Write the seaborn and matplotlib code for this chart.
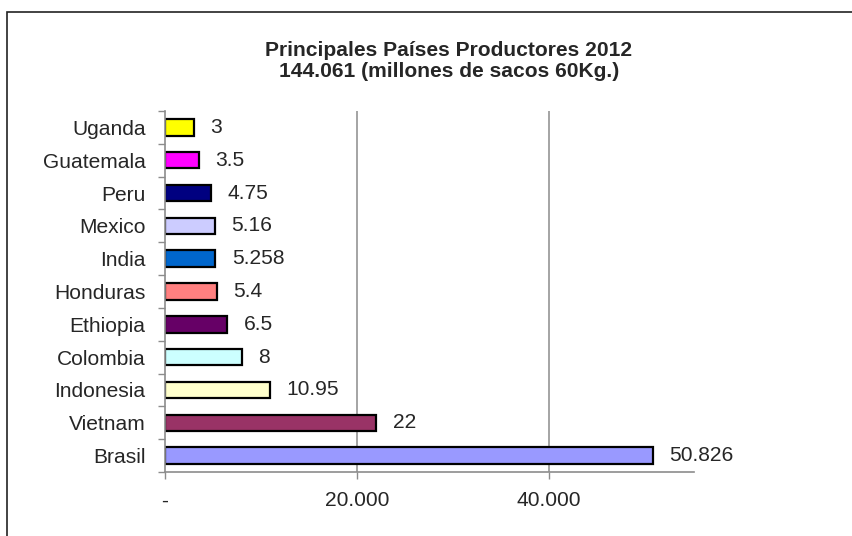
import matplotlib
matplotlib.use("Agg")
import matplotlib.pyplot as plt
from matplotlib.patches import Rectangle
from matplotlib.ticker import FuncFormatter, FixedLocator
import pandas as pd
import seaborn as sns

# Coffee production 2012, top producers (millions of 60 kg bags)
countries = ["Uganda", "Guatemala", "Peru", "Mexico", "India", "Honduras",
             "Ethiopia", "Colombia", "Indonesia", "Vietnam", "Brasil"]
production = [3, 3.5, 4.75, 5.16, 5.258, 5.4, 6.5, 8, 10.95, 22, 50.826]
bar_colors = ["#FFFF00", "#FF00FF", "#000080", "#CCCCFF", "#0066CC", "#FF8080",
              "#660066", "#CCFFFF", "#FFFFCC", "#993366", "#9999FF"]
x_ticks = [0, 20, 40]
title_lines = ["Principales Países Productores 2012",
               "144.061 (millones de sacos 60Kg.)"]

sns.set_style("white")
plt.rcParams["font.family"] = ["Liberation Sans", "DejaVu Sans"]
FS = 15.1

df = pd.DataFrame({"country": countries, "value": production})

W, H = 853, 536
fig = plt.figure(figsize=(W / 100, H / 100), dpi=100)
ax = fig.add_axes([165 / W, 1 - 472 / H, (694 - 165) / W, (472 - 111) / H])

sns.barplot(data=df, x="value", y="country", hue="country", order=countries,
            hue_order=countries, palette=bar_colors, legend=False, width=0.5,
            edgecolor="black", linewidth=1.6, saturation=1, ax=ax)

grid_c = "#8c8c8c"
ax.set_xlim(0, 55.1)
ax.set_ylim(len(countries) - 0.5, -0.5)
ax.set_xlabel("")
ax.set_ylabel("")

# vertical grid lines
for v in x_ticks[1:]:
    ax.axvline(v, color=grid_c, lw=1.1, zorder=0)

ax.xaxis.set_major_locator(FixedLocator(x_ticks))
ax.xaxis.set_major_formatter(FuncFormatter(
    lambda v, _: "-" if v == 0 else f"{v * 1000:,.0f}".replace(",", ".")))
ax.tick_params(axis="x", length=5, width=1, color=grid_c, pad=9,
               labelsize=FS, bottom=True)
ax.tick_params(axis="y", which="major", length=0, pad=14, labelsize=FS)
ax.set_yticks([i + 0.5 for i in range(-1, len(countries))], minor=True)
ax.tick_params(axis="y", which="minor", length=5, width=1, color=grid_c, left=True)

for side in ["top", "right"]:
    ax.spines[side].set_visible(False)
for side in ["left", "bottom"]:
    ax.spines[side].set_color(grid_c)
    ax.spines[side].set_linewidth(1.2)

# value labels
for container in ax.containers:
    ax.bar_label(container, labels=[f"{b.get_width():g}" for b in container],
                 padding=12, fontsize=FS)

# chart title
fig.text(449 / W, 1 - 41 / H, "\n".join(title_lines), ha="center", va="top",
         fontsize=FS, fontweight="bold", linespacing=1.15)

# chart frame
fig.add_artist(Rectangle((7 / W, -0.2), 2, 1.2 - 12 / H, transform=fig.transFigure,
                         fill=False, edgecolor="#222222", lw=1.2))

fig.savefig("out.png", dpi=100)
